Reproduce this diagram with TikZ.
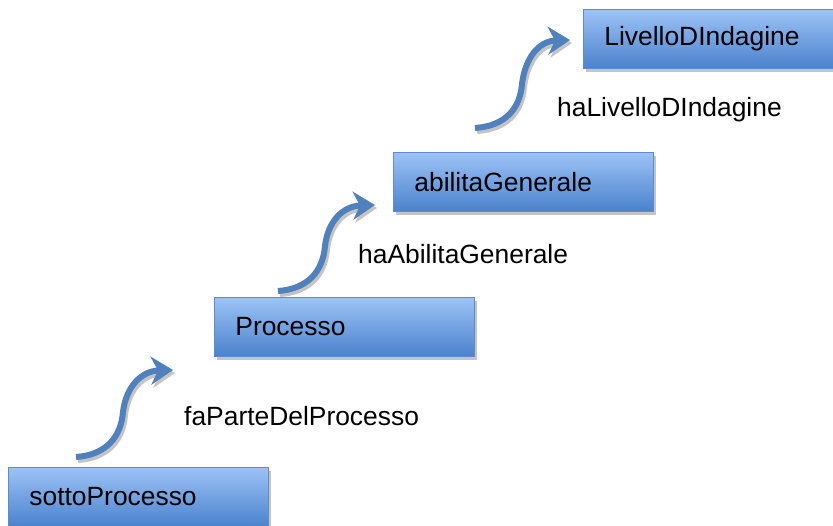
\documentclass[tikz,border=0pt]{standalone}
\usepackage{fontspec}
\setmainfont{Liberation Sans}
\usetikzlibrary{arrows.meta,shadows}
\definecolor{boxtop}{HTML}{9DC3F7}
\definecolor{boxbot}{HTML}{4A82CC}
\definecolor{boxedge}{HTML}{5B8BD0}
\definecolor{arrowblue}{HTML}{4F81BD}
\definecolor{shadowgray}{HTML}{C4C4C4}
\tikzset{
  conceptbox/.style={draw=boxedge, line width=0.8pt, top color=boxtop, bottom color=boxbot,
    minimum width=260pt, minimum height=59pt, text width=218pt, align=left,
    inner xsep=21pt, inner ysep=0pt, anchor=north west,
    font=\fontsize{26.4}{30}\selectfont,
    drop shadow={shadow xshift=3pt, shadow yshift=-4pt, fill=shadowgray, opacity=1}},
  relabel/.style={anchor=base west, inner sep=0pt, font=\fontsize{26.4}{30}\selectfont},
  arrowline/.style={draw=arrowblue, line width=6pt,
    -{Stealth[length=22pt, width=28pt, inset=7pt]}},
  shadowline/.style={draw=shadowgray, line width=6pt,
    -{Stealth[length=22pt, width=28pt, inset=7pt]},
    transform canvas={xshift=2pt, yshift=-3pt}}
}
\begin{document}
\begin{tikzpicture}[x=1pt,y=-1pt]
\useasboundingbox (0,0) rectangle (833,525);
\clip (0,0) rectangle (833,525);
\fill[white] (0,0) rectangle (833,525);

\node[conceptbox] (sotto) at (8,467) {sottoProcesso};
\node[conceptbox] (proc) at (214,297) {Processo};
\node[conceptbox] (abil) at (393,152) {abilitaGenerale};
\node[conceptbox] (liv) at (583,9) {LivelloDIndagine};

\node[relabel] (l1) at (184,425) {faParteDelProcesso};
\node[relabel] (l2) at (358,263) {haAbilitaGenerale};
\node[relabel] (l3) at (557,116) {haLivelloDIndagine};

\coordinate (s1) at (76,457);  \coordinate (m1) at (123,412); \coordinate (t1) at (173,370);
\coordinate (s2) at (278,291); \coordinate (m2) at (325,246); \coordinate (t2) at (375,205);
\coordinate (s3) at (475,128); \coordinate (m3) at (522,84);  \coordinate (t3) at (570,40);

\foreach \i in {1,2,3}{
  \draw[shadowline] (s\i) .. controls +(30,-2) and +(-2,25) .. (m\i)
     .. controls +(3,-25) and +(-32,1) .. (t\i);
}
\foreach \i in {1,2,3}{
  \draw[arrowline] (s\i) .. controls +(30,-2) and +(-2,25) .. (m\i)
     .. controls +(3,-25) and +(-32,1) .. (t\i);
}
\end{tikzpicture}
\end{document}
